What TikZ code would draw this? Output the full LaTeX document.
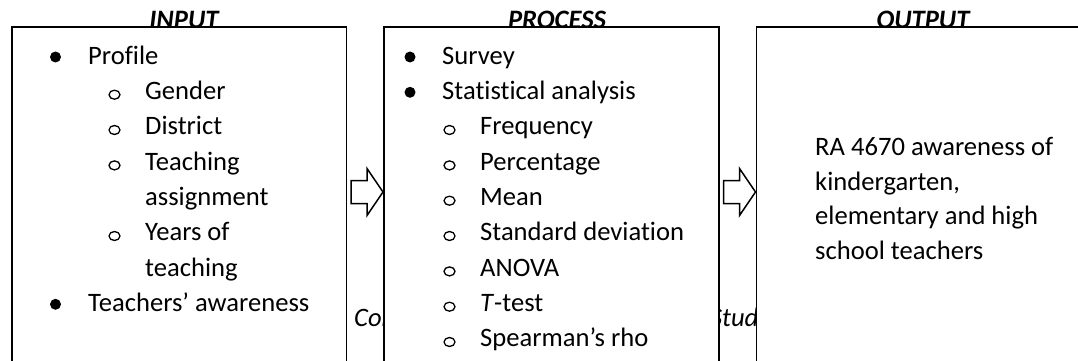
\documentclass[tikz,border=0pt]{standalone}
\usepackage{fontspec}
\setmainfont{Carlito}[Ligatures=NoCommon]
\usetikzlibrary{calc}
\begin{document}
\begin{tikzpicture}[x=1pt,y=-1pt,
  txt/.style={anchor=base west, inner sep=0pt, font=\fontsize{26.6}{32}\selectfont},
  ttl/.style={anchor=base, inner sep=0pt, font=\fontsize{26.6}{32}\selectfont\bfseries\itshape},
  captext/.style={anchor=base west, inner sep=0pt, font=\fontsize{26.6}{32}\selectfont\itshape},
  frame/.style={draw, fill=white, line width=1.6pt, anchor=north west, inner sep=0pt, minimum height=420pt},
  blockarrow/.style={draw, fill=white, line width=1.5pt, line join=miter},
  dotb/.style={fill=black},
  dots/.style={draw, line width=1.3pt}]
\useasboundingbox (0,0) rectangle (1078,361);
\clip (0,0) rectangle (1078,361);
\fill[white] (0,0) rectangle (1078,361);

% caption (mostly hidden behind the boxes)
\node[captext] (caption) at (354,326) {\spaceskip=14pt\relax Conceptual Framework of the Study};

% titles
\node[ttl] (tin)  at (184,28.5) {\underline{INPUT}};
\node[ttl] (tpro) at (557,28.5) {\underline{PROCESS}};
\node[ttl] (tout) at (923,28.5) {\underline{OUTPUT}};

% boxes
\node[frame, minimum width=334.5pt] (inbox)  at (11,26.5) {};
\node[frame, minimum width=335pt]   (probox) at (383,26.5) {};
\node[frame, minimum width=400pt]   (outbox) at (755.5,26.5) {};

% block arrows
\coordinate (ay) at (0,192);
\coordinate (a1e) at (probox.west |- ay);
\coordinate (a2e) at (outbox.west |- ay);
\foreach \t in {a1e,a2e}{
  \draw[blockarrow] ($(\t)+(-32,-11.5)$) -- ($(\t)+(-16,-11.5)$) -- ($(\t)+(-16,-23.5)$)
    -- (\t) -- ($(\t)+(-16,23.5)$) -- ($(\t)+(-16,11.5)$) -- ($(\t)+(-32,11.5)$) -- cycle;
}

% INPUT list
\fill[dotb] (55.5,57) circle (5.5);
\node[txt] (i1) at (88,64) {Profile};
\foreach \y/\n/\t in {99.3/i2/Gender,134.6/i3/District,170/i4/Teaching,240.6/i6/Years of}{
  \draw[dots] (114.5,\y-4.6) ellipse (5.5 and 4.5);
  \node[txt] (\n) at (145,\y) {\t};
}
\node[txt] (i5) at (145,205.3) {assignment};
\node[txt] (i7) at (145,276) {teaching};
\fill[dotb] (55.5,304.3) circle (5.5);
\node[txt] (i8) at (88,311.3) {Teachers’ awareness};

% PROCESS list
\fill[dotb] (410,57) circle (5.5);
\node[txt] (p1) at (442,64) {Survey};
\fill[dotb] (410,92.3) circle (5.5);
\node[txt] (p2) at (442,99.3) {Statistical analysis};
\foreach \y/\n/\t in {134.6/p3/Frequency,170/p4/Percentage,205.3/p5/Mean,240.6/p6/Standard deviation,276/p7/ANOVA,311.3/p8/{\textit{T}-test},346.6/p9/Spearman’s rho}{
  \draw[dots] (449.5,\y-4.6) ellipse (5.5 and 4.5);
  \node[txt] (\n) at (480,\y) {\t};
}

% OUTPUT text
\node[txt] (o1) at (815,155.5) {RA 4670 awareness of};
\node[txt] (o2) at (815,190) {kindergarten,};
\node[txt] (o3) at (815,224.5) {elementary and high};
\node[txt] (o4) at (815,259) {school teachers};
\end{tikzpicture}
\end{document}
